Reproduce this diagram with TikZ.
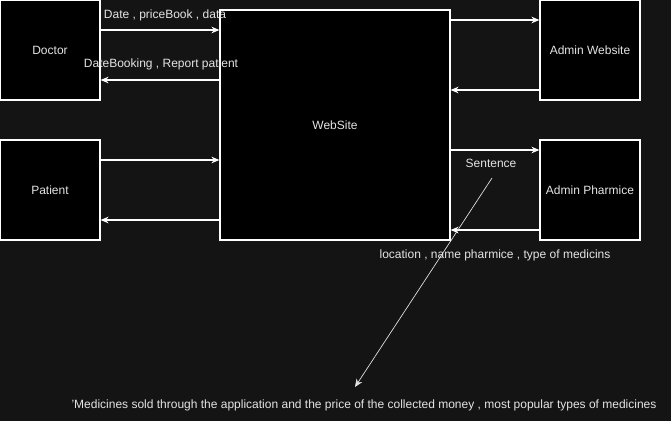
\documentclass[tikz,border=0pt]{standalone}
\usepackage{fontspec}
\setmainfont{Liberation Sans}
\usetikzlibrary{arrows.meta}
\usepackage{xcolor}
\definecolor{bgdark}{HTML}{141414}
\definecolor{txtgray}{HTML}{E4E4E4}

\begin{document}
\begin{tikzpicture}[x=0.75pt,y=-0.75pt,
    box/.style={draw=white, fill=black, line width=0.9pt, inner sep=0pt,
      minimum width=75pt, minimum height=75pt, text=txtgray,
      font=\fontsize{9}{11}\selectfont},
    flow/.style={draw=white, line width=0.9pt, -{Stealth[length=6pt,width=5pt]}},
    thinflow/.style={draw=white!90!black, line width=0.5pt, -{Stealth[length=6pt,width=5pt]}},
    lbl/.style={text=txtgray, inner sep=0pt, font=\fontsize{9}{11}\selectfont}]

      % Background
      \fill[bgdark] (0,0) rectangle (671,421);
      \useasboundingbox (0,0) rectangle (671,421);

      % Boxes
      \node[box] (doctor) at (50,50) {Doctor};
      \node[box] (patient) at (50,190) {Patient};
      \node[box, minimum width=172.5pt, minimum height=172.5pt] (web) at (335,125) {WebSite};
      \node[box] (adminweb) at (590,50) {Admin Website};
      \node[box] (adminpharm) at (590,190) {Admin Pharmice};

      % Doctor <-> WebSite
      \draw[flow] (doctor.east |- 0,30) -- (web.west |- 0,30);
      \draw[flow] (web.west |- 0,80) -- (doctor.east |- 0,80);
      \node[lbl] (docin) at (165,15) {Date , priceBook , data};
      \node[lbl] (docout) at (161,64) {DateBooking , Report patient};

      % Patient <-> WebSite
      \draw[flow] (patient.east |- 0,160) -- (web.west |- 0,160);
      \draw[flow] (web.west |- 0,220) -- (patient.east |- 0,220);

      % WebSite <-> Admin Website
      \draw[flow] (web.east |- 0,20) -- (adminweb.west |- 0,20);
      \draw[flow] (adminweb.west |- 0,90) -- (web.east |- 0,90);

      % WebSite <-> Admin Pharmice
      \draw[flow] (web.east |- 0,150) -- (adminpharm.west |- 0,150);
      \draw[flow] (adminpharm.west |- 0,230) -- (web.east |- 0,230);
      \node[lbl] (sentence) at (491,163) {Sentence};
      \node[lbl] (pharminfo) at (495,255) {location , name pharmice , type of medicins};

      % Report arrow
      \coordinate (repstart) at (492,178);
      \coordinate (repend) at (355,387);
      \draw[thinflow] (repstart) -- (repend);
      \node[lbl] (report) at (364,405) {'Medicines sold through the application and the price of the collected money , most popular types of medicines};

  \end{tikzpicture}
\end{document}
